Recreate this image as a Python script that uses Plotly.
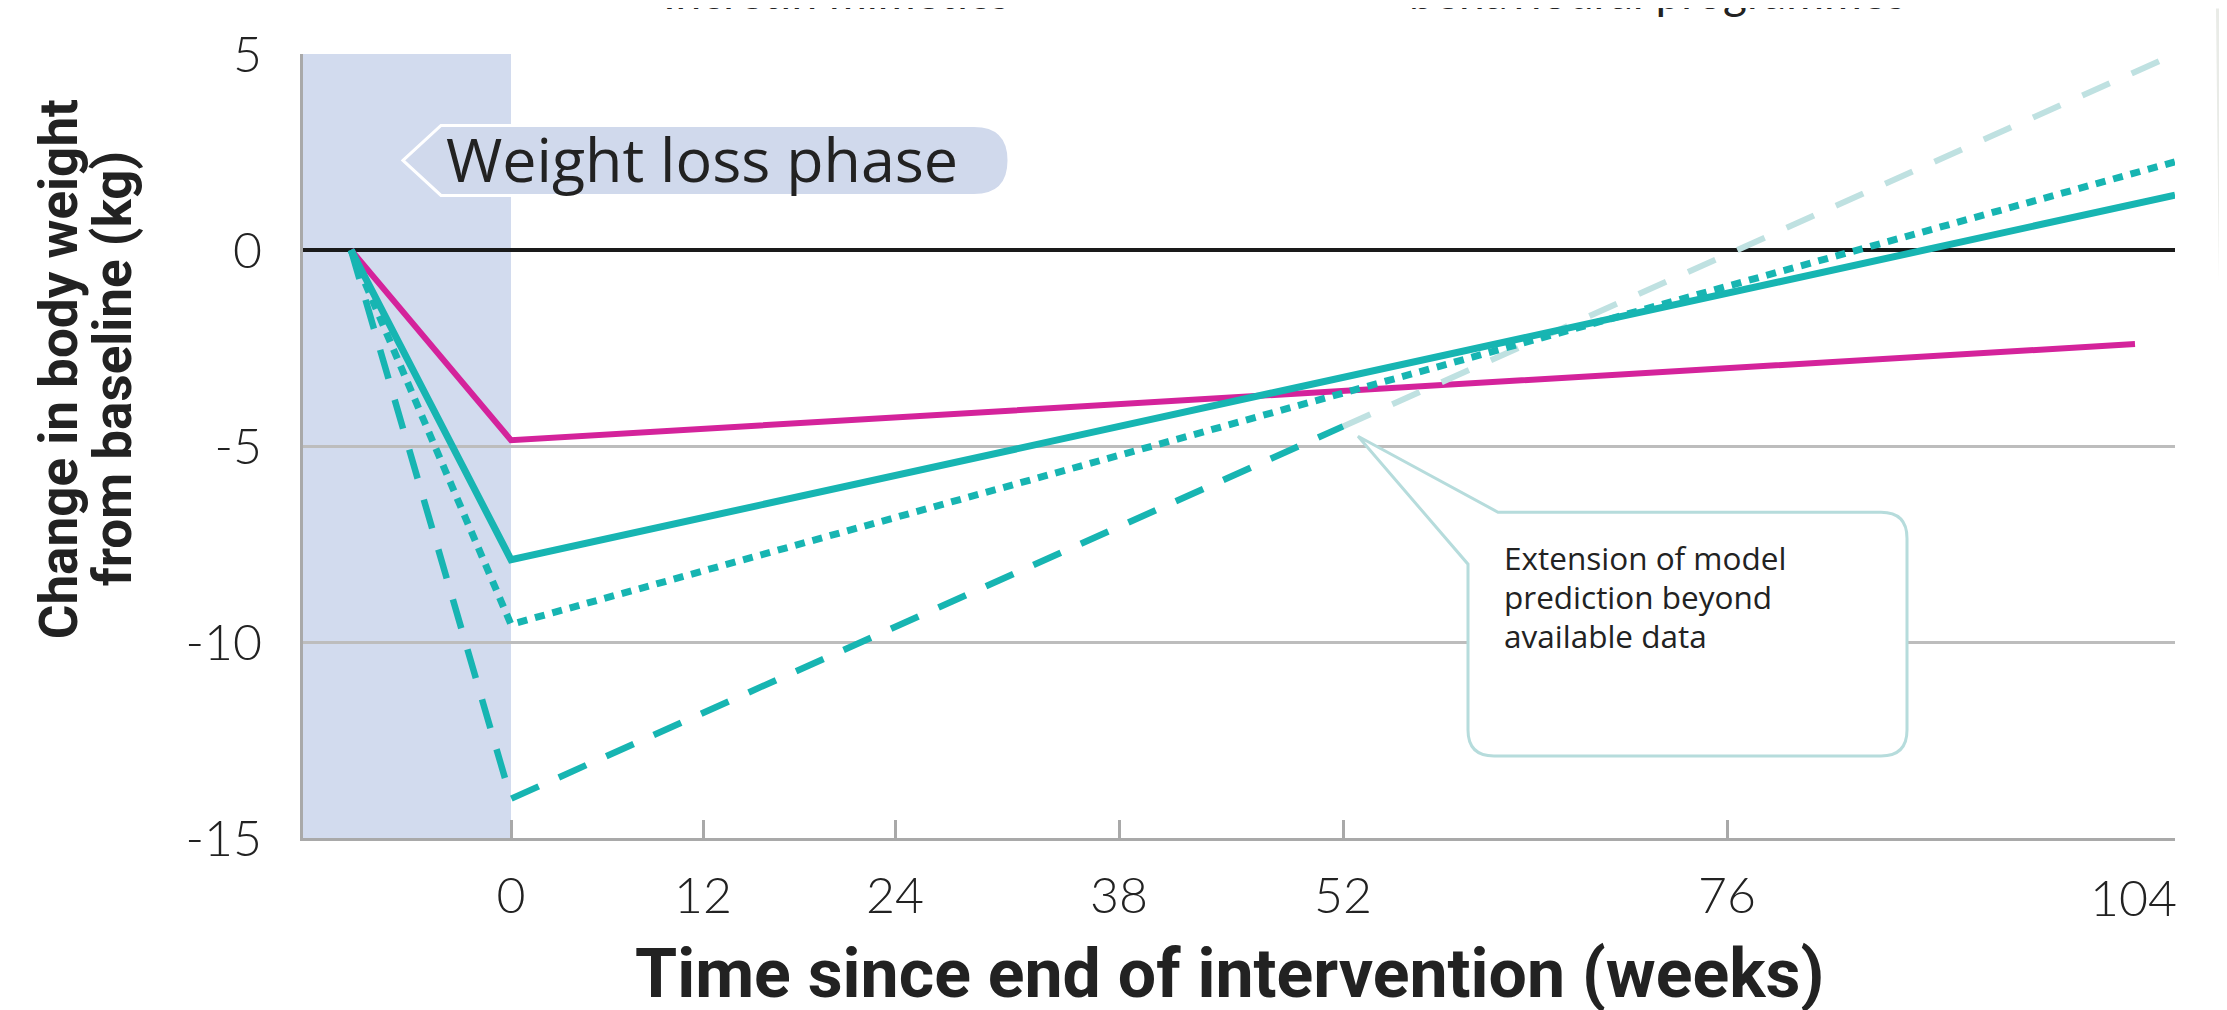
import plotly.graph_objects as go

# ---------------- data ----------------
weeks_behav = [-10, 0, 101.5]
behavioural = [0, -4.85, -2.4]

weeks_med = [-10, 0, 104]
all_medications = [0, -7.9, 1.4]
incretin = [0, -9.55, 2.25]

weeks_sema_obs = [-10, 0, 52]
sema_obs = [0, -14.0, -4.5]
weeks_sema_ext = [52, 104]
sema_ext = [-4.5, 5.0]

x_ticks = [0, 12, 24, 38, 52, 76, 104]
x_ticktext = ["0", "12", "24", "38", "52", "76", ""]
y_ticks = [5, 0, -5, -10, -15]

callout_lines = ["Extension of model", "prediction beyond", "available data"]
y_title_lines = ["Change in body weight", "from baseline (kg)"]
legend_texts = ["Incretin mimetics", "behavioural programmes"]

# ---------------- styles ----------------
TEAL = "#17b5b2"
MAGENTA = "#d4239b"
LIGHT_TEAL = "#bfe1e1"
SHADE = "#d2dbee"
GRID = "#bdbdbd"
AXIS = "#a9a9a9"
TXT = "#222222"
TICKFONT = dict(family="Lato, sans-serif", size=50, color=TXT, weight=300)
BOLDFAM = "Liberation Sans Narrow, Roboto, sans-serif"

W, H = 2227, 1010
L_PX, R_PX, T_PX, B_PX = 295, 2167, 45.5, 830
X0, X1, Y0, Y1 = -13, 104, -15, 5

def fx(px):
    return X0 + (px - L_PX) / (R_PX - L_PX) * (X1 - X0)

def fy(py):
    return Y1 - (py - T_PX) / (B_PX - T_PX) * (Y1 - Y0)

def px_paper(px):
    return (px - L_PX) / (R_PX - L_PX)

def py_paper(py):
    return (B_PX - py) / (B_PX - T_PX)

fig = go.Figure()

fig.add_trace(go.Scatter(x=weeks_behav, y=behavioural, mode="lines",
                         line=dict(color=MAGENTA, width=6), showlegend=False))
fig.add_trace(go.Scatter(x=weeks_sema_ext, y=sema_ext, mode="lines",
                         line=dict(color=LIGHT_TEAL, width=6, dash="30px,24px"), showlegend=False))
fig.add_trace(go.Scatter(x=weeks_sema_obs, y=sema_obs, mode="lines",
                         line=dict(color=TEAL, width=6.5, dash="30px,22px"), showlegend=False))
fig.add_trace(go.Scatter(x=weeks_med, y=incretin, mode="lines",
                         line=dict(color=TEAL, width=7, dash="10px,8px"), showlegend=False))
fig.add_trace(go.Scatter(x=weeks_med, y=all_medications, mode="lines",
                         line=dict(color=TEAL, width=7), showlegend=False))

shapes = []
shapes.append(dict(type="rect", xref="x", yref="y", x0=X0, x1=0, y0=Y0, y1=Y1,
                   fillcolor=SHADE, line=dict(width=0), layer="below"))

# "Weight loss phase" tag
tl, tt, tr, tb, tip = 433, 117, 1001, 187, 395
r = 35
p = (f"M {fx(tip)},{fy((tt+tb)/2)} L {fx(tl)},{fy(tt)} L {fx(tr-r)},{fy(tt)} "
     f"Q {fx(tr)},{fy(tt)} {fx(tr)},{fy((tt+tb)/2)} "
     f"Q {fx(tr)},{fy(tb)} {fx(tr-r)},{fy(tb)} L {fx(tl)},{fy(tb)} Z")
shapes.append(dict(type="path", xref="x", yref="y", path=p,
                   fillcolor="#d0d9ec", line=dict(color="white", width=3), layer="above"))

# callout box
bl, bt, br, bb, rr = 1460, 504, 1899, 748, 26
tipx, tipy = 1350, 428
cp = (f"M {fx(tipx)},{fy(tipy)} L {fx(bl+30)},{fy(bt)} L {fx(br-rr)},{fy(bt)} "
      f"Q {fx(br)},{fy(bt)} {fx(br)},{fy(bt+rr)} L {fx(br)},{fy(bb-rr)} "
      f"Q {fx(br)},{fy(bb)} {fx(br-rr)},{fy(bb)} L {fx(bl+rr)},{fy(bb)} "
      f"Q {fx(bl)},{fy(bb)} {fx(bl)},{fy(bb-rr)} L {fx(bl)},{fy(bt+52)} Z")
shapes.append(dict(type="path", xref="x", yref="y", path=cp,
                   fillcolor="white", line=dict(color="#b6dcdc", width=3), layer="between"))

# scan shadow at right edge
shapes.append(dict(type="path", xref="paper", yref="paper",
                   path=f"M {px_paper(2208)},{py_paper(0)} L {px_paper(2227)},{py_paper(0)} "
                        f"L {px_paper(2227)},{py_paper(1010)} L {px_paper(2219)},{py_paper(1010)} Z",
                   fillcolor="#e9ebe7", line=dict(width=0), layer="below"))

annotations = []
annotations.append(dict(x=fx(694), y=fy(150), xref="x", yref="y", text="Weight loss phase",
                        showarrow=False, font=dict(family="Open Sans, Lato, sans-serif", size=61, color=TXT),
                        xanchor="center", yanchor="middle"))
# callout text
callout_html = "<br>".join(f"<span style='font-size:31.5px'>{t}</span>" for t in callout_lines)
annotations.append(dict(x=fx(1494), y=fy(588), xref="x", yref="y",
                        text=callout_html, showarrow=False, align="left",
                        font=dict(family="Open Sans, Lato, sans-serif", size=30, color=TXT),
                        xanchor="left", yanchor="middle"))
# 104 tick label (offset left as in the original)
annotations.append(dict(x=fx(2125), y=py_paper(889), xref="x", yref="paper", text="104",
                        showarrow=False, font=TICKFONT, xanchor="center", yanchor="middle"))
# axis titles
for i, line in enumerate(y_title_lines):
    annotations.append(dict(x=px_paper(51 + 54 * i), y=py_paper(361), xref="paper", yref="paper",
                            text=line, textangle=-90, showarrow=False,
                            font=dict(family=BOLDFAM, size=53, color=TXT, weight="bold"),
                            xanchor="center", yanchor="middle"))
annotations.append(dict(x=px_paper(1221), y=py_paper(966), xref="paper", yref="paper",
                        text="Time since end of intervention (weeks)",
                        showarrow=False,
                        font=dict(family=BOLDFAM, size=68, color=TXT, weight="bold"),
                        xanchor="center", yanchor="middle"))
# legend fragment (cut off by the page top, as in the original)
for xpx, txt in zip([653, 1399], legend_texts):
    annotations.append(dict(x=px_paper(xpx), y=py_paper(-17), xref="paper", yref="paper",
                            text=txt, showarrow=False,
                            font=dict(family="Lato, sans-serif", size=46, color=TXT),
                            xanchor="left", yanchor="middle"))

fig.update_layout(
    width=W, height=H,
    margin=dict(l=L_PX, r=W - R_PX, t=T_PX, b=H - B_PX),
    paper_bgcolor="white", plot_bgcolor="white",
    shapes=shapes, annotations=annotations,
    showlegend=False,
    xaxis=dict(range=[X0, X1], tickvals=x_ticks, ticktext=x_ticktext,
               showgrid=False, zeroline=False, showline=True, linecolor=AXIS, linewidth=3,
               ticks="inside", ticklen=18, tickwidth=3, tickcolor=AXIS,
               ticklabelstandoff=12, tickfont=TICKFONT),
    yaxis=dict(range=[Y0, Y1], tickvals=y_ticks, ticktext=[str(v) for v in y_ticks],
               showgrid=True, gridcolor=GRID, gridwidth=3,
               zeroline=True, zerolinecolor="#1a1a1a", zerolinewidth=4,
               showline=True, linecolor=AXIS, linewidth=3, ticks="",
               ticklabelstandoff=28, tickfont=TICKFONT),
)

fig.write_html("out.html")
